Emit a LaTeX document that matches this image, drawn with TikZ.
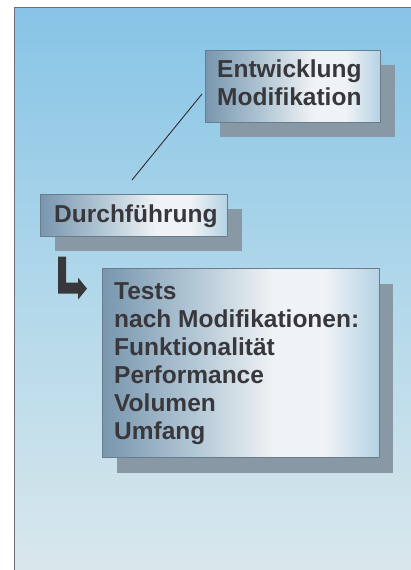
\documentclass[tikz,border=0pt]{standalone}
\usepackage{fontspec}
\setmainfont{Liberation Sans}
\usetikzlibrary{calc}
\definecolor{bgtop}{RGB}{135,196,230}
\definecolor{bgmid}{RGB}{178,216,234}
\definecolor{bgbot}{RGB}{220,232,236}
\definecolor{bxL}{RGB}{120,150,174}
\definecolor{bxQ}{RGB}{180,200,214}
\definecolor{bxM}{RGB}{240,243,245}
\definecolor{bxR}{RGB}{180,210,228}
\definecolor{shadowc}{RGB}{136,152,164}
\definecolor{framec}{RGB}{110,110,120}
\definecolor{txtc}{RGB}{56,56,60}
\definecolor{edgec}{RGB}{105,125,140}
\pgfdeclarehorizontalshading{boxshade}{100bp}{color(0bp)=(bxL); color(25bp)=(bxL); color(42bp)=(bxQ); color(56bp)=(bxM); color(65bp)=(bxM); color(75bp)=(bxR); color(100bp)=(bxR)}
\tikzset{
  boxnode/.style={draw=edgec, line width=0.6pt, shading=boxshade, rectangle, inner sep=0pt, anchor=north west},
  shadownode/.style={fill=shadowc, draw=none, rectangle, inner sep=0pt, anchor=north west},
  boxtext/.style={anchor=north west, inner sep=0pt, align=left, text=txtc, font=\fontsize{24.5}{28}\selectfont\bfseries},
}
\begin{document}
\begin{tikzpicture}[x=1pt, y=-1pt]
\useasboundingbox (0,0) rectangle (411,570);
\clip (0,0) rectangle (411,570);
\fill[white] (0,0) rectangle (411,570);
% background panel
\shade[top color=bgtop, bottom color=bgbot, middle color=bgmid] (14,7) rectangle (430,590);
\draw[framec, line width=0.9pt] (14,590) -- (14,7) -- (430,7);
% shadows
\node[shadownode, minimum width=175pt, minimum height=72pt] (s1) at (220,65) {};
\node[shadownode, minimum width=187pt, minimum height=42pt] (s2) at (55,209) {};
\node[shadownode, minimum width=276pt, minimum height=189pt] (s3) at (117,284) {};
% boxes
\node[boxnode, minimum width=175pt, minimum height=72pt] (b1) at (205,50) {};
\node[boxnode, minimum width=187pt, minimum height=42pt] (b2) at (40,194) {};
\node[boxnode, minimum width=277pt, minimum height=189pt] (b3) at (102,268) {};
% texts
\node[boxtext] (t1) at (217,60) {Entwicklung\\Modifikation};
\node[boxtext] (t2) at (54,205) {Durchführung};
\node[boxtext] (t3) at (114,282) {Tests\\nach Modifikationen:\\Funktionalität\\Performance\\Volumen\\Umfang};
% connector line
\draw[color=txtc!80!black, line width=0.9pt, shorten <=18pt, shorten >=4.7pt]
  ($(b2.north west)+(80.6,0)$) -- ($(b1.north west)+(0,40.3)$);
% L-shaped arrow
\coordinate (ar) at ($(b2.south west)+(18,20)$);
\fill[txtc] (ar) -- ++(8,0) -- ++(0,26) -- ++(12,0) -- ++(0,-5) -- ++(9,11) -- ++(-9,11) -- ++(0,-6) -- ++(-20,0) -- cycle;
\end{tikzpicture}
\end{document}
